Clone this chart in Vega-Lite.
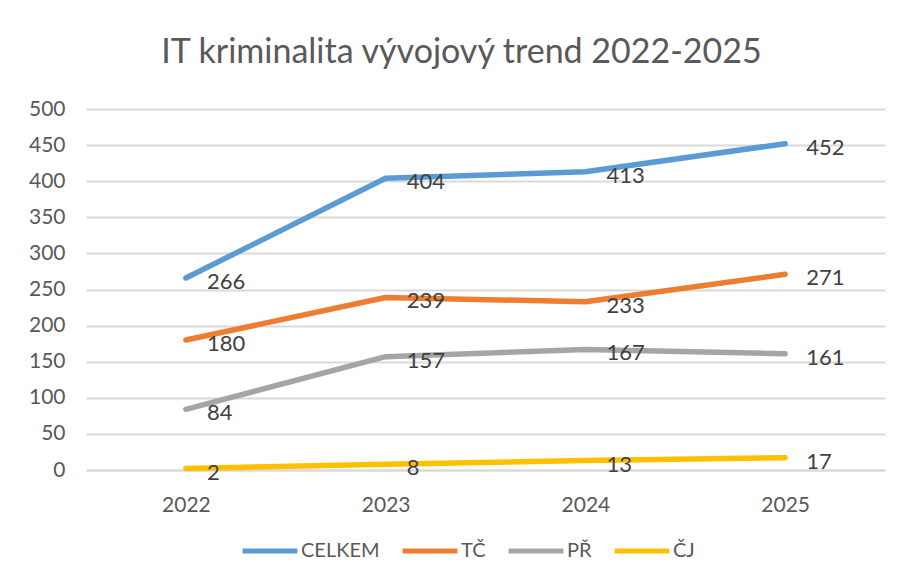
{
  "$schema": "https://vega.github.io/schema/vega-lite/v6.json",
  "width": 799,
  "height": 361,
  "autosize": {"type": "none"},
  "padding": {"left": 86, "top": 109, "right": 21, "bottom": 115},
  "background": "white",
  "title": {
    "text": "IT kriminalita vývojový trend 2022-2025",
    "font": "Lato",
    "fontSize": 34,
    "fontWeight": "normal",
    "color": "#595959",
    "anchor": "middle",
    "dx": -24,
    "offset": 28
  },
  "data": {
    "values": [
      {"rok": "2022", "serie": "CELKEM", "hodnota": 266},
      {"rok": "2023", "serie": "CELKEM", "hodnota": 404},
      {"rok": "2024", "serie": "CELKEM", "hodnota": 413},
      {"rok": "2025", "serie": "CELKEM", "hodnota": 452},
      {"rok": "2022", "serie": "TČ", "hodnota": 180},
      {"rok": "2023", "serie": "TČ", "hodnota": 239},
      {"rok": "2024", "serie": "TČ", "hodnota": 233},
      {"rok": "2025", "serie": "TČ", "hodnota": 271},
      {"rok": "2022", "serie": "PŘ", "hodnota": 84},
      {"rok": "2023", "serie": "PŘ", "hodnota": 157},
      {"rok": "2024", "serie": "PŘ", "hodnota": 167},
      {"rok": "2025", "serie": "PŘ", "hodnota": 161},
      {"rok": "2022", "serie": "ČJ", "hodnota": 2},
      {"rok": "2023", "serie": "ČJ", "hodnota": 8},
      {"rok": "2024", "serie": "ČJ", "hodnota": 13},
      {"rok": "2025", "serie": "ČJ", "hodnota": 17}
    ]
  },
  "encoding": {
    "x": {
      "field": "rok",
      "type": "ordinal",
      "scale": {"type": "point", "padding": 0.5},
      "axis": {
        "title": null,
        "labelAngle": 0,
        "labelFont": "Lato",
        "labelFontSize": 21,
        "labelColor": "#595959",
        "labelPadding": 24,
        "domainColor": "#d9d9d9",
        "domainWidth": 2,
        "ticks": false,
        "grid": false
      }
    },
    "y": {
      "field": "hodnota",
      "type": "quantitative",
      "scale": {"domain": [0, 500], "nice": false},
      "axis": {
        "title": null,
        "values": [0, 50, 100, 150, 200, 250, 300, 350, 400, 450, 500],
        "labelFont": "Lato",
        "labelFontSize": 21,
        "labelColor": "#595959",
        "labelPadding": 21,
        "domain": false,
        "ticks": false,
        "gridColor": "#d9d9d9",
        "gridWidth": 2
      }
    },
    "color": {
      "field": "serie",
      "type": "nominal",
      "sort": ["CELKEM", "TČ", "PŘ", "ČJ"],
      "scale": {
        "domain": ["CELKEM", "TČ", "PŘ", "ČJ"],
        "range": ["#5B9BD5", "#ED7D31", "#A5A5A5", "#FFC000"]
      },
      "legend": {
        "title": null,
        "orient": "none",
        "direction": "horizontal",
        "legendX": 154,
        "legendY": 412,
        "symbolType": "stroke",
        "symbolStrokeWidth": 5,
        "symbolSize": 3000,
        "labelFont": "Lato",
        "labelFontSize": 20,
        "labelColor": "#595959",
        "columnPadding": 12,
        "labelOffset": 1
      }
    }
  },
  "layer": [
    {
      "mark": {"type": "line", "strokeWidth": 5.5, "strokeCap": "round", "strokeJoin": "round"},
      "encoding": {"detail": {"field": "serie"}}
    },
    {
      "mark": {
        "type": "text",
        "align": "left",
        "baseline": "middle",
        "dx": 21,
        "dy": 4,
        "font": "Lato",
        "fontSize": 22,
        "color": "#404040"
      },
      "encoding": {
        "text": {"field": "hodnota", "type": "quantitative"},
        "color": {"value": "#404040"}
      }
    }
  ],
  "config": {"view": {"stroke": null}}
}
